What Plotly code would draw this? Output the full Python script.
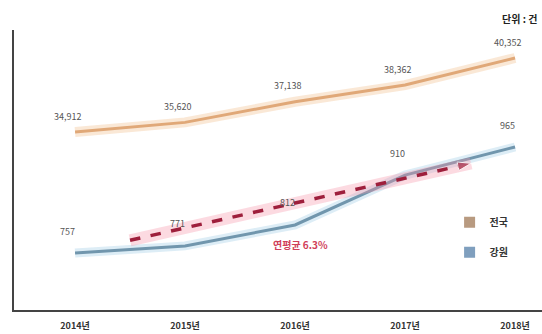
import plotly.graph_objects as go

years = ["2014년", "2015년", "2016년", "2017년", "2018년"]
national = [34912, 35620, 37138, 38362, 40352]
gangwon = [757, 771, 812, 910, 965]
national_labels = ["34,912", "35,620", "37,138", "38,362", "40,352"]
gangwon_labels = ["757", "771", "812", "910", "965"]
trend_x = [0.5, 3.6]
trend_y = [782, 933]
trend_text = "연평균 6.3%"
unit_text = "단위 : 건"

xi = list(range(len(years)))
FONT = "Noto Sans CJK KR"

fig = go.Figure()

# national line (y1)
fig.add_trace(go.Scatter(x=xi, y=national, mode="lines", yaxis="y",
                         line=dict(color="rgba(245,205,165,0.45)", width=10),
                         showlegend=False, hoverinfo="skip"))
fig.add_trace(go.Scatter(x=xi, y=national, mode="lines", yaxis="y",
                         line=dict(color="#e0a878", width=3), showlegend=False))

# gangwon line (y2)
fig.add_trace(go.Scatter(x=xi, y=gangwon, mode="lines", yaxis="y2",
                         line=dict(color="rgba(180,215,235,0.45)", width=9),
                         showlegend=False, hoverinfo="skip"))
fig.add_trace(go.Scatter(x=xi, y=gangwon, mode="lines", yaxis="y2",
                         line=dict(color="#7196ad", width=3), showlegend=False))

# trend arrow
fig.add_trace(go.Scatter(x=trend_x, y=trend_y, mode="lines", yaxis="y2",
                         line=dict(color="rgba(245,150,170,0.35)", width=12),
                         showlegend=False, hoverinfo="skip"))
fig.add_trace(go.Scatter(x=trend_x, y=trend_y, mode="lines+markers", yaxis="y2",
                         line=dict(color="#9e1f3c", width=3.5, dash="dash"),
                         marker=dict(symbol=["circle", "arrow"], size=[0, 14],
                                     angleref="previous", color="#9e1f3c"),
                         showlegend=False))

# legend-only traces
fig.add_trace(go.Scatter(x=[None], y=[None], mode="markers", name="<b>전국</b>",
                         legendgroup="a",
                         marker=dict(symbol="square", size=11, color="#b89a80")))
fig.add_trace(go.Scatter(x=[None], y=[None], mode="markers", name="<b>강원</b>",
                         legendgroup="b",
                         marker=dict(symbol="square", size=11, color="#7f9fbe")))

ann = []
for i, (v, t) in enumerate(zip(national, national_labels)):
    ann.append(dict(x=i, y=v, yref="y", xref="x", text=t, showarrow=False,
                    yshift=16, xshift=-8, font=dict(size=9, color="#555555", family=FONT)))
for i, (v, t) in enumerate(zip(gangwon, gangwon_labels)):
    ann.append(dict(x=i, y=v, yref="y2", xref="x", text=t, showarrow=False,
                    yshift=22, xshift=-8, font=dict(size=9, color="#555555", family=FONT)))
ann.append(dict(x=2.05, y=0.2, xref="x", yref="paper", text="<b>" + trend_text + "</b>",
                showarrow=False,
                font=dict(size=10, color="#d0405a", family=FONT)))
ann.append(dict(x=0.995, y=1.0, xref="paper", yref="paper", text="<b>" + unit_text + "</b>",
                showarrow=False, xanchor="right", yanchor="bottom", yshift=2,
                font=dict(size=10, color="#222222", family=FONT)))

fig.update_layout(
    width=542, height=334,
    margin=dict(l=14, r=0, t=30, b=24),
    paper_bgcolor="white", plot_bgcolor="white",
    font=dict(family=FONT),
    xaxis=dict(range=[-0.555, 4.245], tickvals=xi,
               ticktext=["<b>" + y + "</b>" for y in years], showgrid=False,
               zeroline=False, showline=True, linecolor="#444444", linewidth=1.5,
               ticks="", ticklabelstandoff=6,
               tickfont=dict(size=9, color="#333333", family=FONT)),
    yaxis=dict(range=[21829, 42410], showgrid=False, zeroline=False, showticklabels=False,
               showline=True, linecolor="#444444", linewidth=1.5),
    yaxis2=dict(range=[645.2, 1194.6], overlaying="y", showgrid=False, zeroline=False,
                showticklabels=False, showline=False),
    legend=dict(x=0.825, y=0.365, xanchor="left", yanchor="top", bgcolor="rgba(0,0,0,0)",
                font=dict(size=10, color="#333333", family=FONT), itemwidth=30,
                tracegroupgap=11),
    annotations=ann,
)

fig.write_html("out.html")
